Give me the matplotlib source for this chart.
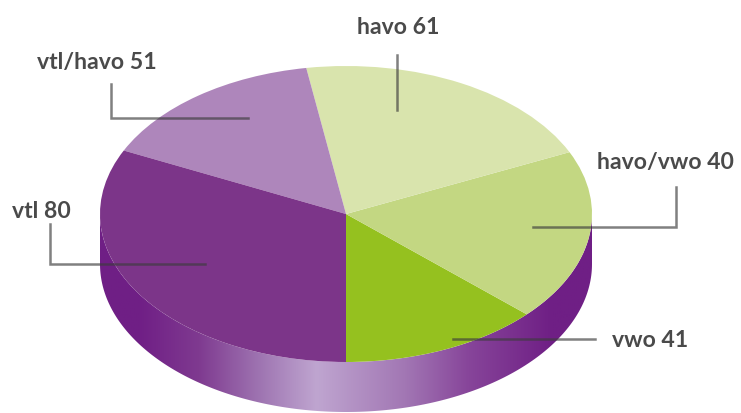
import numpy as np
import matplotlib
matplotlib.use('Agg')
import matplotlib.pyplot as plt
from matplotlib.colors import LinearSegmentedColormap
from matplotlib.patches import Polygon

# Chart data, bottom slice first, going counterclockwise
categories = ['vwo', 'havo/vwo', 'havo', 'vtl/havo', 'vtl']
values = [41, 40, 61, 51, 80]
# sweep of each slice as drawn (degrees), the picture is not quite proportional
sweeps = [47.3, 67.4, 74.6, 55.3, 115.4]
colors = ['#95c11f', '#c3d782', '#d9e4ad', '#ae86bb', '#7c3589']

# Geometry of the pie in pixels
W, H = 741, 414
CX, CY = 346, 215
RX, RY = 246, 148
DEPTH = 50


def px(x, y):
    # pixel position to pie units
    return (x - CX) / RX, (CY - y) / RY


fig = plt.figure(figsize=(W / 100, H / 100), dpi=100)
ax = fig.add_axes([0, 0, 1, 1])

# Rim with a gradient, clipped to the lower half of the cylinder
rim_cmap = LinearSegmentedColormap.from_list('rim', [
    (0.00, '#6f1f85'), (0.08, '#701f86'), (0.20, '#7f3a90'), (0.33, '#a077b3'),
    (0.44, '#bfa5d0'), (0.62, '#a277b4'), (0.75, '#87459a'), (0.92, '#6f1f85'),
    (1.00, '#6f1f85')])
theta = np.linspace(np.pi, 2 * np.pi, 200)
lower = np.column_stack([np.cos(theta), np.sin(theta) - DEPTH / RY])
upper = np.column_stack([np.cos(theta[::-1]), np.sin(theta[::-1])])
rim = Polygon(np.vstack([lower, upper]), closed=True, facecolor='none', edgecolor='none')
ax.add_patch(rim)
grad = ax.imshow(np.linspace(0, 1, 256).reshape(1, -1), cmap=rim_cmap, aspect='auto',
                 extent=[-1, 1, -1 - DEPTH / RY, 0], zorder=1)
grad.set_clip_path(rim)

# Top face
wedges, _ = ax.pie(sweeps, colors=colors, startangle=-90, counterclock=True, radius=1,
                   wedgeprops={'linewidth': 0})
for w in wedges:
    w.set_zorder(2)

ax.set_aspect('auto')
ax.set_xlim(px(0, 0)[0], px(W, 0)[0])
ax.set_ylim(px(0, H)[1], px(0, 0)[1])
ax.axis('off')

# Leader lines
leaders = {
    'vwo': [(453, 340), (595, 340)],
    'havo/vwo': [(533, 228), (676, 228), (676, 188)],
    'havo': [(397, 56), (397, 111)],
    'vtl/havo': [(111, 85), (111, 119), (248, 119)],
    'vtl': [(50, 225), (50, 265), (205, 265)],
}
for name, pts in leaders.items():
    xs, ys = zip(*[px(*p) for p in pts])
    ax.plot(xs, ys, color='#3c3c3c', alpha=0.65, lw=1.8, zorder=3, solid_joinstyle='miter')

# Labels
label_pos = {
    'vwo': (612, 341, 'left'),
    'havo/vwo': (597, 163, 'left'),
    'havo': (398, 27, 'center'),
    'vtl/havo': (97, 63, 'center'),
    'vtl': (12, 212, 'left'),
}
for name, val in zip(categories, values):
    x, y, ha = label_pos[name]
    xd, yd = px(x, y)
    ax.text(xd, yd, f'{name} {val}', ha=ha, va='center', fontsize=16.6, color='#4a4a4a',
            family='Lato', weight='bold', zorder=4)

fig.savefig('out.png', dpi=100)
